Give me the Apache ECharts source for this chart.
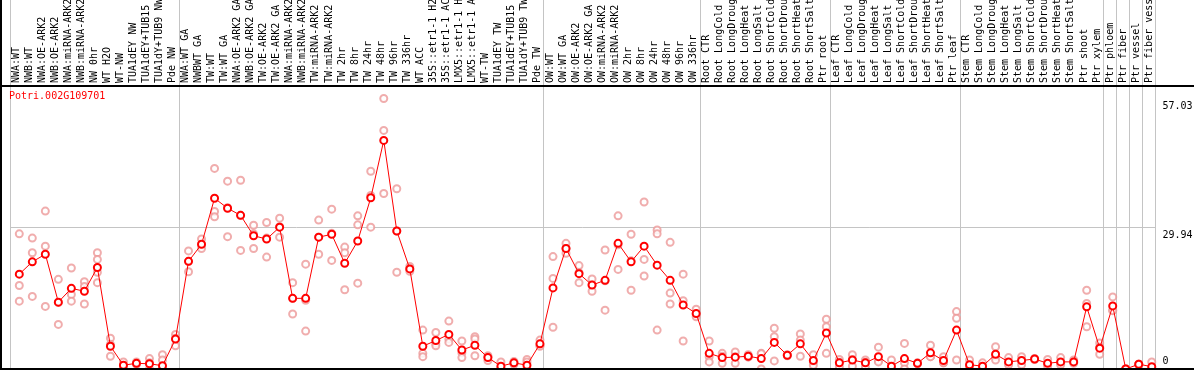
<!DOCTYPE html>
<html>
<head>
<meta charset="utf-8">
<script src="https://cdn.jsdelivr.net/npm/echarts@6/dist/echarts.min.js"></script>
<style>
html,body{margin:0;padding:0;background:#fff;}
#chart{width:1194px;height:370px;}
</style>
</head>
<body>
<div id="chart"></div>
<script>
const geneId = 'Potri.002G109701';

const categories = [
  'NWA:WT','NWB:WT','NWA:OE-ARK2','NWB:OE-ARK2','NWA:miRNA-ARK2','NWB:miRNA-ARK2','NW 0hr','WT H2O','WT-NW','TUA1dEY NW','TUA1dEY+TUB15 NW','TUA1dY+TUB9 NW','Pde NW',
  'NWA:WT GA','NWBWT GA','TW:WT','TW:WT GA','NWA:OE-ARK2 GA','NWB:OE-ARK2 GA','TW:OE-ARK2','TW:OE-ARK2 GA','NWA:miRNA-ARK2 GA','NWB:miRNA-ARK2 GA','TW:miRNA-ARK2','TW:miRNA-ARK2 GA',
  'TW 2hr','TW 8hr','TW 24hr','TW 48hr','TW 96hr','TW 336hr','WT ACC','35S::etr1-1 H2O','35S::etr1-1 ACC','LMX5::etr1-1 H2O','LMX5::etr1-1 ACC','WT-TW','TUA1dEY TW','TUA1dEY+TUB15 TW','TUA1dY+TUB9 TW','Pde TW',
  'OW:WT','OW:WT GA','OW:OE-ARK2','OW:OE-ARK2 GA','OW:miRNA-ARK2','OW:miRNA-ARK2 GA','OW 2hr','OW 8hr','OW 24hr','OW 48hr','OW 96hr','OW 336hr',
  'Root CTR','Root LongCold','Root LongDrought','Root LongHeat','Root LongSalt','Root ShortCold','Root ShortDrought','Root ShortHeat','Root ShortSalt','Ptr root',
  'Leaf CTR','Leaf LongCold','Leaf LongDrought','Leaf LongHeat','Leaf LongSalt','Leaf ShortCold','Leaf ShortDrought','Leaf ShortHeat','Leaf ShortSalt','Ptr leaf',
  'Stem CTR','Stem LongCold','Stem LongDrought','Stem LongHeat','Stem LongSalt','Stem ShortCold','Stem ShortDrought','Stem ShortHeat','Stem ShortSalt','Ptr shoot','Ptr xylem',
  'Ptr phloem','Ptr fiber','Ptr vessel','Ptr fiber vessel'
];

// indices of the first category of each sample group (separator lines)
const groupStarts = [0, 13, 41, 53, 63, 73, 84, 85, 86, 87];

const meanValues = [
  20.0,22.6,24.2,14.1,17.0,16.4,21.4,4.8,0.8,1.2,1.1,0.7,6.3,
  22.7,26.3,36.0,33.9,32.4,28.1,27.4,29.9,14.9,14.9,27.8,28.4,22.3,27.0,36.1,48.2,29.1,21.1,4.8,6.0,7.3,4.0,5.0,2.4,0.6,1.3,0.8,5.3,
  17.1,25.4,20.1,17.7,18.7,26.5,22.6,25.9,21.9,18.7,13.5,11.7,
  3.3,2.4,2.5,2.7,2.2,5.6,2.9,5.3,1.8,7.6,
  1.3,1.9,1.3,2.6,0.6,2.2,1.2,3.4,1.8,8.2,
  0.9,0.6,3.1,1.5,1.8,2.1,1.2,1.5,1.5,13.1,4.4,
  13.3,0,1.0,0.5
];

const replicateValues = [
  [28.5,17.6,14.3],[27.6,24.5,15.3],[33.3,25.9,13.2],[18.9,14.0,9.4],[21.3,15.7,14.3],[18.4,17.4,13.7],[24.5,23.1,20.4,18.2],
  [6.5,5.2,2.7],[1.5,0.6,0.3],[1.5,1.1,1.0],[2.2,1.3,0.0],[3.0,1.9,0.2],[7.3,6.5,4.9],
  [24.9,22.7,20.5],[27.4,26.2,25.4],[42.3,33.2,32.1],[39.6,34.0,27.9],[39.8,32.4,25.0],[30.3,28.5,25.4],[30.9,27.6,23.6],
  [31.8,30.0,27.8],[18.2,14.9,11.6],[22.1,14.5,8.0],[31.4,27.8,24.2],[33.7,28.6,22.9],[25.7,24.5,16.7],[32.3,30.4,18.1],
  [41.7,36.6,29.9],[57.03,50.3,37.0],[38.0,29.1,20.4],[21.6,21.1,20.6],[8.2,3.3,2.6],[7.7,5.4,4.9],[10.1,6.3,5.6],
  [5.9,3.4,2.4],[6.8,6.3,2.8],[2.8,2.6,1.8],[1.5,0.2,0.1],[1.6,1.2,1.0],[2.0,1.5,0.0],[6.1,5.0,4.8],
  [23.7,19.1,8.8],[26.5,25.4,24.4],[21.8,20.3,18.2],[19.0,17.7,16.4],[25.1,18.6,12.4],[32.3,26.2,21.0],[28.4,22.8,16.6],
  [35.2,23.1,19.6],[29.3,28.5,8.2],[26.7,16.0,13.7],[20.0,14.4,5.9],[12.6,11.5,11.0],
  [5.9,2.6,1.5],[3.3,2.7,1.2],[3.6,2.6,1.2],[3.0,2.6,2.5],[3.3,3.2,0.0],[8.6,6.8,1.7],[3.0,2.9,2.8],[7.4,6.1,2.7],[3.0,1.5,0.8],[10.5,8.9,3.3],
  [2.0,1.4,0.5],[3.0,2.0,0.6],[1.9,1.4,0.5],[4.6,1.7,1.5],[1.9,0.0,0.0],[5.4,1.3,0.0],[1.3,1.2,1.1],[5.0,2.6,2.6],[2.6,1.3,1.3],[12.1,10.7,1.9],
  [1.9,0.5,0.3],[1.3,0.3,0.2],[4.7,2.7,1.9],[2.4,1.2,0.9],[2.6,1.7,0.9],[2.2,2.1,2.0],[2.0,1.0,0.6],[2.4,1.2,0.9],[1.9,1.4,1.2],[16.6,13.8,8.9],[5.5,4.6,3.1],
  [15.2,12.4,12.3],[0,0,0],[1.0,1.0,1.0],[1.5,0.1,0.0]
];

const yTickLabels = [57.03, 29.94, 0];
const refLineValue = 29.94;

// ---- build series data from arrays ----
const meanData = meanValues.map((v, i) => [i, v]);
const repData = [];
replicateValues.forEach((arr, i) => arr.forEach(v => repData.push([i, v])));

const MONO = "'DejaVu Sans Mono', 'Liberation Mono', monospace";
const Y_MAX = 59.67;
const POINT_OFFSET = 0.214; // points sit slightly right of band centre, as in the reference
const n = categories.length;
const sepInterval = (idx) => groupStarts.indexOf(idx) >= 0;

const chart = echarts.init(document.getElementById('chart'), null, {renderer: 'canvas'});
chart.setOption({
  animation: false,
  backgroundColor: '#ffffff',
  title: {
    text: geneId, left: 9, top: 91, padding: 0,
    textStyle: {color: '#ff0000', fontFamily: MONO, fontSize: 10, fontWeight: 'normal'}
  },
  grid: [
    {left: 10, right: 38.5, top: 86, bottom: 1, outerBoundsMode: 'none', containLabel: false},
    {left: 10, right: 38.5, top: 0, height: 86, outerBoundsMode: 'none', containLabel: false}
  ],
  xAxis: [
    {
      type: 'category', gridIndex: 0, position: 'top', data: categories, boundaryGap: true,
      axisLine: {show: false}, axisTick: {show: false},
      axisLabel: {interval: 0, rotate: 90, margin: 3, color: '#000', fontFamily: MONO, fontSize: 10, hideOverlap: false},
      splitLine: {show: true, interval: sepInterval, lineStyle: {color: '#c4c4c4', width: 1}}
    },
    {
      type: 'category', gridIndex: 1, data: categories, boundaryGap: true,
      axisLine: {show: false}, axisTick: {show: false}, axisLabel: {show: false},
      splitLine: {show: true, interval: sepInterval, lineStyle: {color: '#c4c4c4', width: 1}}
    },
    {
      type: 'value', gridIndex: 0, show: false,
      min: -0.5 - POINT_OFFSET, max: n - 0.5 - POINT_OFFSET
    }
  ],
  yAxis: [
    {
      type: 'value', gridIndex: 0, position: 'right', min: 0, max: Y_MAX,
      axisLine: {show: false}, axisTick: {show: false}, splitLine: {show: false},
      axisLabel: {
        customValues: yTickLabels.filter(v => v !== 0), margin: 7, color: '#000',
        fontFamily: MONO, fontSize: 10, verticalAlign: 'top', padding: [3, 0, 0, 0],
        formatter: v => v.toFixed(2)
      }
    },
    {
      type: 'value', gridIndex: 0, position: 'right', min: 0, max: Y_MAX,
      axisLine: {show: false}, axisTick: {show: false}, splitLine: {show: false},
      axisLabel: {
        customValues: yTickLabels.filter(v => v === 0), margin: 7, color: '#000',
        fontFamily: MONO, fontSize: 10, verticalAlign: 'bottom', padding: [0, 0, 3, 0],
        formatter: v => String(v)
      }
    },
    {
      type: 'value', gridIndex: 0, position: 'right', min: 0, max: Y_MAX, interval: refLineValue,
      axisLine: {show: false}, axisTick: {show: false}, axisLabel: {show: false},
      splitLine: {show: true, lineStyle: {color: '#c4c4c4', width: 1}}
    },
    {type: 'value', gridIndex: 1, show: false}
  ],
  series: [
    {
      name: 'replicates', type: 'scatter', xAxisIndex: 2, yAxisIndex: 0,
      data: repData, symbol: 'emptyCircle', symbolSize: 7,
      itemStyle: {color: '#ec9898', borderWidth: 1.4},
      z: 2, silent: true
    },
    {
      name: 'mean', type: 'line', xAxisIndex: 2, yAxisIndex: 0,
      data: meanData, symbol: 'emptyCircle', symbolSize: 7, showAllSymbol: true,
      lineStyle: {color: '#ff0000', width: 1},
      itemStyle: {color: '#ff0000', borderWidth: 1.8},
      z: 3, silent: true, clip: false
    }
  ],
  graphic: [
    {type: 'line', shape: {x1: 0, y1: 86, x2: 1194, y2: 86}, style: {stroke: '#000', lineWidth: 2}, z: 100, silent: true},
    {type: 'line', shape: {x1: 0, y1: 369, x2: 1194, y2: 369}, style: {stroke: '#000', lineWidth: 2}, z: 100, silent: true},
    {type: 'line', shape: {x1: 1, y1: 0, x2: 1, y2: 370}, style: {stroke: '#000', lineWidth: 2}, z: 100, silent: true}
  ]
});
</script>
</body>
</html>
